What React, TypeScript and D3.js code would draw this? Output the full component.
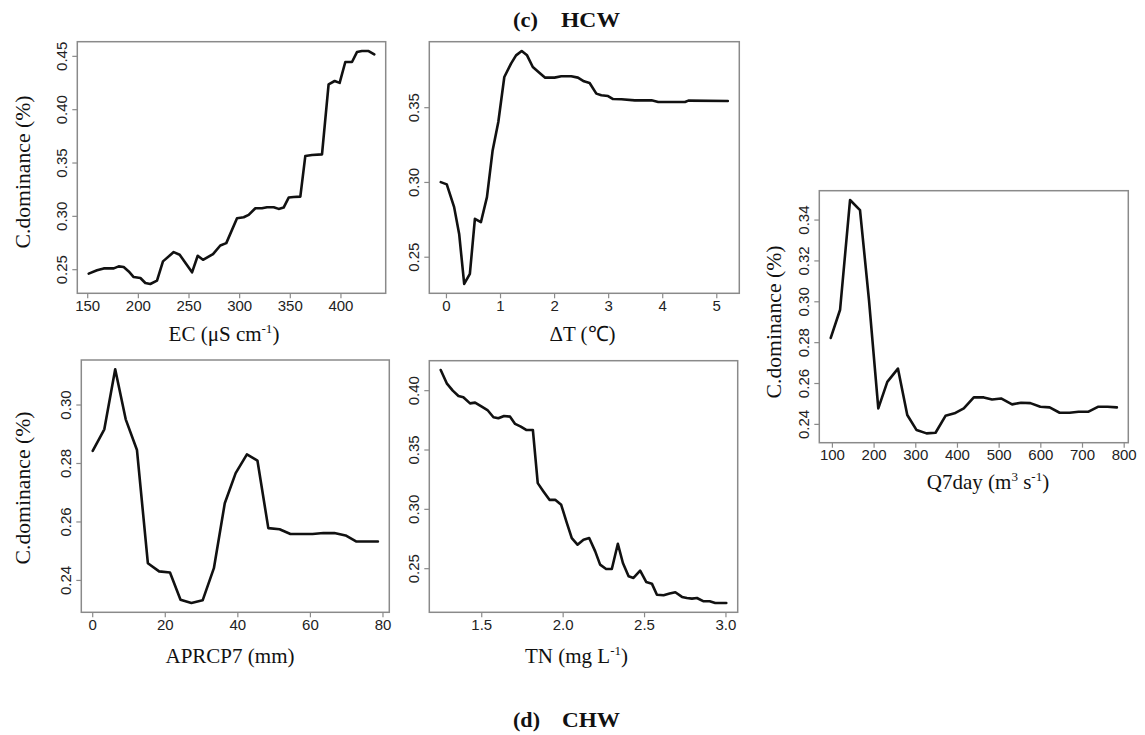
import React from "react";
import * as d3 from "d3";

// ---------- data ----------
const ecX = [151,159.2,165.8,175.7,180.6,185.5,190.5,195.4,202,206.9,211.8,218.4,224.3,234.9,240.8,253,258.6,263.8,273.7,280.9,286.8,297.4,304,308.9,315.5,322,327,333.6,338.5,343.4,348.4,353.3,359.9,364.8,371.4,381.3,387.8,393.8,398.7,404.3,410.9,415.8,420.7,427.3,432.9];
const ecY = [0.2463,0.2494,0.2512,0.2512,0.2531,0.2525,0.2484,0.2431,0.2422,0.2375,0.2366,0.2397,0.2578,0.2665,0.264,0.2475,0.2631,0.2593,0.2646,0.2727,0.2749,0.2983,0.2992,0.3014,0.3076,0.3076,0.3086,0.3086,0.307,0.3082,0.3176,0.3182,0.3185,0.3565,0.3575,0.3581,0.4238,0.4269,0.4251,0.4447,0.4447,0.454,0.455,0.455,0.4519];
const ecXTicks = [150, 200, 250, 300, 350, 400];
const ecYTicks = ["0.25", "0.30", "0.35", "0.40", "0.45"];

const dtX = [-0.105,0.006,0.142,0.235,0.328,0.433,0.526,0.637,0.749,0.854,0.959,1.07,1.194,1.287,1.392,1.491,1.597,1.702,1.826,1.999,2.123,2.308,2.432,2.543,2.648,2.772,2.865,2.989,3.082,3.236,3.484,3.793,3.917,4.412,4.474,5.204];
const dtY = [0.3002,0.2987,0.2835,0.2656,0.2321,0.2388,0.2757,0.2734,0.2902,0.3214,0.3404,0.3705,0.3795,0.385,0.3879,0.385,0.3772,0.3739,0.3701,0.3701,0.371,0.371,0.3701,0.3676,0.3665,0.3594,0.3583,0.3578,0.3558,0.3556,0.3549,0.3549,0.3538,0.3538,0.3547,0.3545];
const dtXTicks = [0, 1, 2, 3, 4, 5];
const dtYTicks = ["0.25", "0.30", "0.35"];

const qX = [96,118.4,142.3,166.2,187.8,210.1,231.7,257.2,279.6,301.9,325.9,347.4,371.3,392.9,415.2,439.2,463.1,483.1,504.6,531,552.5,574.9,598.8,621.2,645.1,669.1,690.6,714.5,736.9,760,782.4];
const qY = [0.2823,0.2961,0.3498,0.3449,0.3007,0.2478,0.2608,0.2673,0.2446,0.2372,0.2356,0.2359,0.2442,0.2454,0.2478,0.2532,0.2532,0.2522,0.2527,0.2498,0.2506,0.2504,0.2486,0.2483,0.2457,0.2457,0.2462,0.2462,0.2486,0.2486,0.2483];
const qXTicks = [100, 200, 300, 400, 500, 600, 700, 800];
const qYTicks = ["0.24", "0.26", "0.28", "0.30", "0.32", "0.34"];

const apX = [0,3.2,6.2,9.1,12.2,15.2,18.3,21.3,24.2,27.2,30.3,33.4,36.4,39.4,42.5,45.4,48.4,51.5,54.5,57.6,60.6,63.6,66.6,69.7,72.7,75.7,78.6];
const apY = [0.2843,0.2917,0.3122,0.2951,0.2846,0.2459,0.2431,0.2427,0.2334,0.2323,0.2332,0.2442,0.2664,0.2767,0.2831,0.281,0.2579,0.2575,0.2559,0.2559,0.2559,0.2562,0.2562,0.2554,0.2533,0.2533,0.2533];
const apXTicks = [0, 20, 40, 60, 80];
const apYTicks = ["0.24", "0.26", "0.28", "0.30"];

const tnX = [1.248,1.285,1.322,1.357,1.387,1.428,1.459,1.5,1.535,1.572,1.602,1.637,1.674,1.705,1.74,1.773,1.814,1.844,1.879,1.916,1.951,1.988,2.023,2.053,2.088,2.125,2.16,2.197,2.227,2.264,2.299,2.336,2.367,2.402,2.432,2.473,2.51,2.545,2.576,2.617,2.654,2.689,2.73,2.76,2.791,2.822,2.863,2.9,2.934,3.002];
const tnY = [0.4174,0.4062,0.40,0.3955,0.3944,0.3893,0.3899,0.3865,0.3837,0.3776,0.3767,0.3787,0.3781,0.372,0.3697,0.3669,0.3669,0.3221,0.3151,0.308,0.308,0.3038,0.2884,0.2758,0.2702,0.2744,0.2758,0.2646,0.2534,0.2497,0.2497,0.271,0.2548,0.2436,0.2422,0.2483,0.2388,0.2374,0.2281,0.2276,0.229,0.2301,0.2262,0.2253,0.2248,0.2253,0.2225,0.2225,0.2211,0.2211];
const tnXTicks = ["1.5", "2.0", "2.5", "3.0"];
const tnYTicks = ["0.25", "0.30", "0.35", "0.40"];

const yLabelText = "C.dominance (%)";

// ---------- styles ----------
const SANS = "'Liberation Sans', Arial, sans-serif";
const SERIF = "'Liberation Serif', 'Times New Roman', serif";
const BOX = "#8a8a8a";
const TICKTXT = "#222";

type Label = { main: string; sup?: string; tail?: string };

type PanelCfg = {
  xs: number[];
  ys: number[];
  xTicks: (number | string)[];
  yTicks: (number | string)[];
  box: { l: number; r: number; t: number; b: number };
  xLabel: (string | { sup: string })[];
  xLabelPos: { x: number; y: number; w: number };
  yLabel?: { x: number; y: number };
};

const panels: PanelCfg[] = [
  {
    xs: ecX, ys: ecY, xTicks: ecXTicks, yTicks: ecYTicks,
    box: { l: 77.3, r: 385.7, t: 41.7, b: 293.3 },
    xLabel: ["EC (\u03bcS cm", { sup: "-1" }, ")"],
    xLabelPos: { x: 224, y: 340.5, w: 109 },
    yLabel: { x: 30, y: 172 },
  },
  {
    xs: dtX, ys: dtY, xTicks: dtXTicks, yTicks: dtYTicks,
    box: { l: 429.3, r: 739.3, t: 41.7, b: 293.3 },
    xLabel: ["\u0394T (\u2103)"],
    xLabelPos: { x: 582.5, y: 341, w: 65 },
  },
  {
    xs: qX, ys: qY, xTicks: qXTicks, yTicks: qYTicks,
    box: { l: 819.3, r: 1128.3, t: 190.7, b: 442.7 },
    xLabel: ["Q7day (m", { sup: "3" }, " s", { sup: "-1" }, ")"],
    xLabelPos: { x: 988, y: 489, w: 126 },
    yLabel: { x: 781, y: 322 },
  },
  {
    xs: apX, ys: apY, xTicks: apXTicks, yTicks: apYTicks,
    box: { l: 81.3, r: 389.3, t: 360, b: 612.3 },
    xLabel: ["APRCP7 (mm)"],
    xLabelPos: { x: 230, y: 663, w: 130 },
    yLabel: { x: 30, y: 488 },
  },
  {
    xs: tnX, ys: tnY, xTicks: tnXTicks, yTicks: tnYTicks,
    box: { l: 429.3, r: 737.7, t: 360.7, b: 612.3 },
    xLabel: ["TN (mg L", { sup: "-1" }, ")"],
    xLabelPos: { x: 576.5, y: 663, w: 103 },
  },
];

// R-style 4% axis expansion
function expand(vals: number[]): [number, number] {
  const [lo, hi] = d3.extent(vals) as [number, number];
  const d = (hi - lo) * 0.04;
  return [lo - d, hi + d];
}

function Panel({ cfg }: { cfg: PanelCfg }) {
  const { box } = cfg;
  const x = d3.scaleLinear().domain(expand(cfg.xs)).range([box.l, box.r]);
  const y = d3.scaleLinear().domain(expand(cfg.ys)).range([box.b, box.t]);
  const pts: [number, number][] = cfg.xs.map((v, i) => [v, cfg.ys[i]]);
  const path = d3
    .line<[number, number]>()
    .x((d) => x(d[0]))
    .y((d) => y(d[1]))(pts) as string;

  return (
    <g>
      <rect
        x={box.l}
        y={box.t}
        width={box.r - box.l}
        height={box.b - box.t}
        fill="none"
        stroke={BOX}
        strokeWidth={1.5}
      />
      {cfg.xTicks.map((t) => {
        const px = x(+t);
        return (
          <g key={"x" + t}>
            <line x1={px} x2={px} y1={box.b} y2={box.b + 5} stroke={BOX} strokeWidth={1.2} />
            <text
              x={px}
              y={box.b + 17.5}
              textAnchor="middle"
              fontFamily={SANS}
              fontSize={15}
              fill={TICKTXT}
            >
              {String(t)}
            </text>
          </g>
        );
      })}
      {cfg.yTicks.map((t) => {
        const py = y(+t);
        const tx = box.l - 10;
        return (
          <g key={"y" + t}>
            <line x1={box.l - 5} x2={box.l} y1={py} y2={py} stroke={BOX} strokeWidth={1.2} />
            <text
              x={tx}
              y={py}
              transform={`rotate(-90, ${tx}, ${py})`}
              textAnchor="middle"
              fontFamily={SANS}
              fontSize={15}
              fill={TICKTXT}
            >
              {String(t)}
            </text>
          </g>
        );
      })}
      <path
        d={path}
        fill="none"
        stroke="#111"
        strokeWidth={2.6}
        strokeLinejoin="round"
        strokeLinecap="round"
      />
      <text
        x={cfg.xLabelPos.x}
        y={cfg.xLabelPos.y}
        textAnchor="middle"
        fontFamily={SERIF}
        fontSize={21}
        fill="#111"
      >
        {cfg.xLabel.map((part, i) =>
          typeof part === "string" ? (
            <tspan key={i}>{part}</tspan>
          ) : (
            <tspan key={i} fontSize={13} dy={-8}>
              {part.sup}
            </tspan>
          )
        ).reduce((acc: any[], el: any, i: number) => {
          // after a superscript, restore the baseline
          const prev = cfg.xLabel[i - 1];
          if (i > 0 && typeof prev !== "string" && typeof cfg.xLabel[i] === "string") {
            acc.push(React.cloneElement(el, { dy: 8 }));
          } else if (i > 0 && typeof prev !== "string" && typeof cfg.xLabel[i] !== "string") {
            acc.push(el);
          } else {
            acc.push(el);
          }
          return acc;
        }, [])}
      </text>
      {cfg.yLabel && (
        <text
          x={cfg.yLabel.x}
          y={cfg.yLabel.y}
          transform={`rotate(-90, ${cfg.yLabel.x}, ${cfg.yLabel.y})`}
          textAnchor="middle"
          fontFamily={SERIF}
          fontSize={21}
          textLength={153}
          lengthAdjust="spacingAndGlyphs"
          fill="#111"
        >
          {yLabelText}
        </text>
      )}
    </g>
  );
}

export default function App() {
  return (
    <svg
      width={1145}
      height={735}
      viewBox="0 0 1145 735"
      style={{ position: "absolute", left: 0, top: 0, background: "#fff" }}
    >
      <rect x={0} y={0} width={1145} height={735} fill="#fff" />
      <text x={513} y={27} fontFamily={SERIF} fontWeight="bold" fontSize={22} textLength={25} lengthAdjust="spacingAndGlyphs" fill="#111">
        (c)
      </text>
      <text x={561} y={27} fontFamily={SERIF} fontWeight="bold" fontSize={22} textLength={59} lengthAdjust="spacingAndGlyphs" fill="#111">
        HCW
      </text>
      {panels.map((p, i) => (
        <Panel key={i} cfg={p} />
      ))}
      <text x={513} y={727} fontFamily={SERIF} fontWeight="bold" fontSize={22} textLength={27} lengthAdjust="spacingAndGlyphs" fill="#111">
        (d)
      </text>
      <text x={562} y={727} fontFamily={SERIF} fontWeight="bold" fontSize={22} textLength={58} lengthAdjust="spacingAndGlyphs" fill="#111">
        CHW
      </text>
    </svg>
  );
}
